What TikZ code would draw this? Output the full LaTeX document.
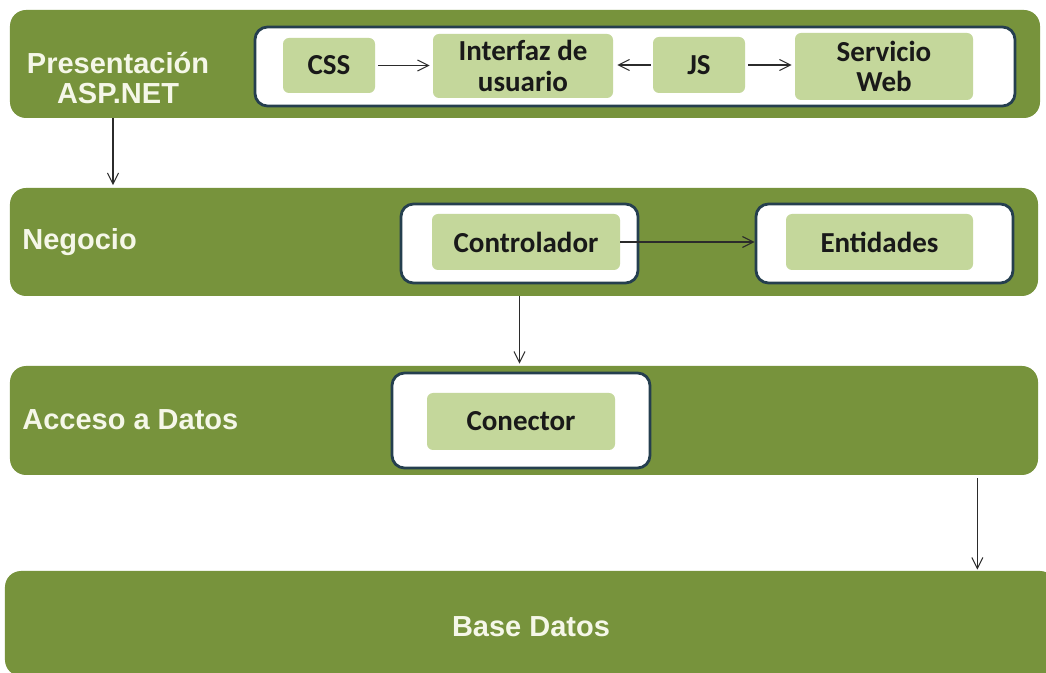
\documentclass[tikz,border=0pt]{standalone}
\usepackage{fontspec}
\usepackage{tikz}
\usetikzlibrary{positioning, arrows.meta, calc}
\newfontfamily\layerfont{Liberation Sans}
\newfontfamily\compfont{Carlito}
\definecolor{olivegreen}{HTML}{77933C}
\definecolor{lightolive}{HTML}{C4D79B}
\definecolor{frameblue}{HTML}{253F4F}
\definecolor{creamtext}{HTML}{F5F7E8}
\definecolor{arrowgray}{HTML}{2B2B2B}

\begin{document}
\begin{tikzpicture}[
    layer/.style={rectangle, fill=olivegreen, rounded corners=0.32cm, inner sep=0pt},
    layertext/.style={font=\layerfont\bfseries\fontsize{16.5}{17.5}\selectfont,
                      text=creamtext, align=center, inner sep=0pt},
    frame/.style={rectangle, draw=frameblue, fill=white, line width=1.6pt,
                  rounded corners=0.25cm, inner sep=0pt},
    comp/.style={rectangle, fill=lightolive, rounded corners=0.12cm, align=center,
                 font=\compfont\bfseries\fontsize{16.5}{17.5}\selectfont,
                 text=black!90, inner sep=0pt},
    arr/.style={-{Straight Barb[length=2.2mm, width=2.2mm]}, line width=0.6pt, arrowgray}
]
    \useasboundingbox (0,0) rectangle (20.92,-13.46);
    \clip (0,0) rectangle (20.92,-13.46);
    \fill[white] (0,0) rectangle (20.92,-13.46);

    % Layers
    \node[layer, minimum width=20.6cm, minimum height=2.16cm] (pres) at (10.5,-1.28) {};
    \node[layer, minimum width=20.56cm, minimum height=2.16cm] (neg) at (10.48,-4.84) {};
    \node[layer, minimum width=20.56cm, minimum height=2.18cm] (acc) at (10.48,-8.41) {};
    \node[layer, minimum width=21.02cm, minimum height=2.1cm] (base) at (10.61,-12.47) {};

    \node[layertext] (plbl) at (2.36,-1.56) {Presentación\\ASP.NET};
    \node[layertext, anchor=west] (nlbl) at (0.44,-4.84) {Negocio};
    \node[layertext, anchor=west] (albl) at (0.44,-8.40) {Acceso a Datos};
    \node[layertext] (blbl) at (10.62,-12.54) {Base Datos};

    % Presentation components
    \node[frame, minimum width=15.2cm, minimum height=1.58cm] (uibox) at (12.7,-1.33) {};
    \node[comp, minimum width=1.84cm, minimum height=1.10cm] (css) at (6.58,-1.31) {CSS};
    \node[comp, minimum width=3.6cm, minimum height=1.28cm] (ui) at (10.46,-1.32) {Interfaz de\\usuario};
    \node[comp, minimum width=1.84cm, minimum height=1.12cm] (js) at (13.98,-1.30) {JS};
    \node[comp, minimum width=3.56cm, minimum height=1.34cm] (ws) at (17.68,-1.33) {Servicio\\Web};

    \draw[arr, shorten <=0.06cm, shorten >=0.06cm] (css.east) -- (css.east -| ui.west);
    \draw[arr, shorten <=0.04cm, shorten >=0.08cm] (js.west) -- (js.west -| ui.east);
    \draw[arr, shorten <=0.06cm, shorten >=0.06cm] (js.east) -- (js.east -| ws.west);

    % Business components
    \node[frame, minimum width=4.74cm, minimum height=1.58cm] (ctrlbox) at (10.39,-4.87) {};
    \node[comp, minimum width=3.76cm, minimum height=1.12cm] (ctrl) at (10.52,-4.84) {Controlador};
    \node[frame, minimum width=5.14cm, minimum height=1.58cm] (entbox) at (17.69,-4.87) {};
    \node[comp, minimum width=3.74cm, minimum height=1.12cm] (ent) at (17.59,-4.84) {Entidades};

    \draw[arr] (ctrl.east) -- (ctrl.east -| entbox.west);

    % Data access
    \node[frame, minimum width=5.16cm, minimum height=1.90cm] (conbox) at (10.42,-8.41) {};
    \node[comp, minimum width=3.76cm, minimum height=1.14cm] (con) at (10.42,-8.43) {Conector};

    % Between layers
    \draw[arr, shorten >=0.05cm] ([xshift=-0.1cm]plbl.south |- pres.south) -- ([xshift=-0.1cm]plbl.south |- neg.north);
    \draw[arr, shorten >=0.04cm] (ctrlbox.south |- neg.south) -- (ctrlbox.south |- acc.north);
    \draw[arr, shorten <=0.06cm, shorten >=0.02cm] ([xshift=-1.22cm]acc.south east) -- ([xshift=-1.22cm]acc.south east |- base.north);
\end{tikzpicture}
\end{document}
